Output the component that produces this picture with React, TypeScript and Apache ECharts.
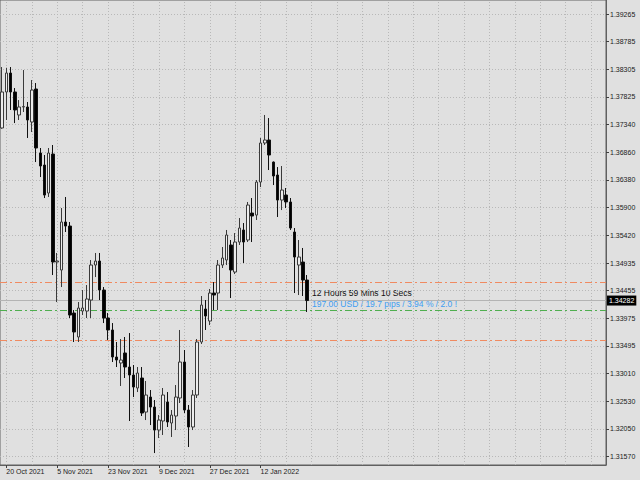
import React, { useEffect, useRef } from "react";
import * as echarts from "echarts";

// Trading days shown (daily candles)
const dates: string[] = [
  "19 Oct 2021", "20 Oct 2021", "21 Oct 2021", "22 Oct 2021", "25 Oct 2021", "26 Oct 2021", "27 Oct 2021", "28 Oct 2021", "29 Oct 2021",
  "1 Nov 2021", "2 Nov 2021", "3 Nov 2021", "4 Nov 2021", "5 Nov 2021", "8 Nov 2021", "9 Nov 2021", "10 Nov 2021", "11 Nov 2021", "12 Nov 2021",
  "15 Nov 2021", "16 Nov 2021", "17 Nov 2021", "18 Nov 2021", "19 Nov 2021", "22 Nov 2021", "23 Nov 2021", "24 Nov 2021", "25 Nov 2021",
  "26 Nov 2021", "29 Nov 2021", "30 Nov 2021",
  "1 Dec 2021", "2 Dec 2021", "3 Dec 2021", "6 Dec 2021", "7 Dec 2021", "8 Dec 2021", "9 Dec 2021", "10 Dec 2021", "13 Dec 2021",
  "14 Dec 2021", "15 Dec 2021", "16 Dec 2021", "17 Dec 2021", "20 Dec 2021", "21 Dec 2021", "22 Dec 2021", "23 Dec 2021", "24 Dec 2021",
  "27 Dec 2021", "28 Dec 2021", "29 Dec 2021", "30 Dec 2021", "31 Dec 2021",
  "3 Jan 2022", "4 Jan 2022", "5 Jan 2022", "6 Jan 2022", "7 Jan 2022", "10 Jan 2022", "11 Jan 2022", "12 Jan 2022", "13 Jan 2022",
  "14 Jan 2022", "17 Jan 2022", "18 Jan 2022", "19 Jan 2022", "20 Jan 2022", "21 Jan 2022", "24 Jan 2022", "25 Jan 2022", "26 Jan 2022",
  "27 Jan 2022",
];

const opens: number[] = [
  1.37283, 1.37909, 1.38239, 1.37909, 1.37509, 1.37648, 1.37648, 1.37387, 1.37961, 1.36848,
  1.36639, 1.36152, 1.36830, 1.34952, 1.34813, 1.35648, 1.35578, 1.34065, 1.33648, 1.34100,
  1.34100, 1.34291, 1.34900, 1.34969, 1.34465, 1.33978, 1.33770, 1.33300, 1.33196, 1.33370,
  1.33126, 1.32987, 1.32761, 1.32935, 1.32343, 1.32604, 1.32430, 1.32030, 1.32187, 1.32517,
  1.32152, 1.32274, 1.32587, 1.33213, 1.32378, 1.32083, 1.32639, 1.33561, 1.34135, 1.33926,
  1.34413, 1.34413, 1.34900, 1.34987, 1.35248, 1.34778, 1.35300, 1.35509, 1.35335, 1.35804,
  1.35769, 1.36343, 1.37022, 1.37074, 1.36691, 1.36465, 1.36030, 1.36117, 1.35996, 1.35474,
  1.34900, 1.34952, 1.34639,
];
const closes: number[] = [
  1.37909, 1.38239, 1.37909, 1.37596, 1.37648, 1.37655, 1.37422, 1.37943, 1.36935, 1.36622,
  1.36117, 1.36848, 1.34952, 1.34969, 1.35648, 1.35578, 1.34030, 1.33735, 1.34152, 1.34152,
  1.34309, 1.34900, 1.34969, 1.34465, 1.33978, 1.33770, 1.33300, 1.33248, 1.33248, 1.33126,
  1.32987, 1.32778, 1.33022, 1.32326, 1.32639, 1.32430, 1.32030, 1.32204, 1.32639, 1.32170,
  1.32291, 1.32604, 1.33213, 1.32378, 1.32083, 1.32639, 1.33561, 1.34204, 1.34013, 1.34413,
  1.34378, 1.34900, 1.35022, 1.35422, 1.34813, 1.35300, 1.35543, 1.35300, 1.35943, 1.35752,
  1.36343, 1.37022, 1.37074, 1.36813, 1.36448, 1.36030, 1.36204, 1.35996, 1.35543, 1.35039,
  1.35039, 1.34639, 1.34282,
];
const lows: number[] = [
  1.37270, 1.37422, 1.37596, 1.37369, 1.37422, 1.37561, 1.37109, 1.37213, 1.36691, 1.36430,
  1.36065, 1.36083, 1.34726, 1.34256, 1.34517, 1.35474, 1.33978, 1.33561, 1.33561, 1.34030,
  1.33978, 1.33978, 1.34691, 1.34291, 1.33891, 1.33596, 1.33213, 1.33126, 1.32796, 1.32935,
  1.32187, 1.32604, 1.32691, 1.32274, 1.32204, 1.32117, 1.31630, 1.31891, 1.31944, 1.32083,
  1.31909, 1.32030, 1.32500, 1.32326, 1.31735, 1.32030, 1.32587, 1.33526, 1.33770, 1.33856,
  1.34117, 1.34117, 1.34848, 1.34900, 1.34326, 1.34743, 1.35248, 1.34935, 1.35300, 1.35300,
  1.35683, 1.36256, 1.36987, 1.36552, 1.36291, 1.35735, 1.35856, 1.35891, 1.35509, 1.34413,
  1.34378, 1.34361, 1.34083,
];
const highs: number[] = [
  1.38343, 1.38330, 1.38343, 1.37978, 1.37769, 1.38291, 1.37735, 1.38117, 1.38065, 1.36935,
  1.36813, 1.36935, 1.36987, 1.35109, 1.35891, 1.36083, 1.35648, 1.34117, 1.34256, 1.34465,
  1.34552, 1.34987, 1.35109, 1.35109, 1.34517, 1.34065, 1.33891, 1.33561, 1.33613, 1.33648,
  1.33717, 1.33161, 1.33126, 1.33126, 1.32883, 1.32726, 1.32552, 1.32291, 1.32761, 1.32691,
  1.32378, 1.32813, 1.33770, 1.33422, 1.32465, 1.32726, 1.33613, 1.34361, 1.34291, 1.34483,
  1.34604, 1.34987, 1.35213, 1.35509, 1.35335, 1.35456, 1.35717, 1.35630, 1.35996, 1.36065,
  1.36378, 1.37109, 1.37509, 1.37456, 1.36700, 1.36604, 1.36622, 1.36239, 1.36065, 1.35543,
  1.35335, 1.35196, 1.34726,
];

const yTicks: number[] = [
  1.39265, 1.38785, 1.38305, 1.37825, 1.3734, 1.3686, 1.3638, 1.359, 1.3542,
  1.34935, 1.34455, 1.33975, 1.33495, 1.3301, 1.3253, 1.3205, 1.3157,
];
const labeledDates: string[] = ["20 Oct 2021", "5 Nov 2021", "23 Nov 2021", "9 Dec 2021", "27 Dec 2021", "12 Jan 2022"];

const upperLevel = 1.34592;
const entryLevel = 1.34105;
const lowerLevel = 1.33596;
const bidPrice = 1.34282;

const timerText = "12 Hours 59 Mins 10 Secs";
const infoText = "197.00 USD / 19.7 pips / 3.94 % / 2.0 !";

const FUTURE_SLOTS = 70;

export default function App() {
  const ref = useRef<HTMLDivElement>(null);
  useEffect(() => {
    if (!ref.current) return;
    const chart = echarts.init(ref.current, null, { renderer: "svg" });
    const future = Array.from({ length: FUTURE_SLOTS }, (_, i) => `_f${i}`);
    const categories = [...dates, ...future];
    const candles = opens.map((o, i) => [o, closes[i], lows[i], highs[i]]);
    const vGrid: number[] = [];
    for (let i = 1; i < categories.length; i += 6) vGrid.push(i);
    const font = "Liberation Sans";
    const labelIdx = new Set(labeledDates.map((d) => dates.indexOf(d)));
    const showIdx = (idx: number) => labelIdx.has(idx);
    const dotted = { type: [1, 2] as any, color: "#b8b8b8", width: 1 };
    const dashDot = [7, 3, 2, 3] as any;

    chart.setOption({
      animation: false,
      backgroundColor: "#e0e0e0",
      grid: { left: 0, top: 0, right: 34, bottom: 15, show: true, borderColor: "#606060", borderWidth: 1, backgroundColor: "transparent" },
      xAxis: {
        type: "category",
        data: categories,
        boundaryGap: true,
        axisLine: { show: true, lineStyle: { color: "#606060", width: 1 } },
        axisTick: { show: true, alignWithLabel: true, interval: showIdx, length: 3, lineStyle: { color: "#404040" } },
        axisLabel: { interval: showIdx, align: "left", margin: 3, fontSize: 7, fontFamily: font, color: "#202020" },
        splitLine: { show: false },
      },
      yAxis: {
        type: "value",
        position: "right",
        min: 1.31422,
        max: 1.39509,
        axisLine: { show: true, lineStyle: { color: "#606060", width: 1 } },
        axisTick: { show: true, customValues: yTicks, length: 3, lineStyle: { color: "#404040" } },
        axisLabel: { customValues: yTicks, formatter: (v: number) => v.toFixed(5), margin: 4, fontSize: 7, fontFamily: font, color: "#202020" },
        splitLine: { show: false },
      },
      series: [
        {
          type: "line",
          data: [],
          z: 1,
          silent: true,
          markLine: {
            z: 1,
            silent: true,
            precision: 6,
            symbol: "none",
            label: { show: false },
            lineStyle: dotted,
            data: [
              ...yTicks.map((v) => ({ yAxis: v })),
              ...vGrid.map((i) => ({ xAxis: i })),
            ],
          },
        },
        {
          type: "candlestick",
          data: candles,
          z: 3,
          barWidth: 3,
          itemStyle: {
            color: "#ececec",
            color0: "#000000",
            borderColor: "#3a3a3a",
            borderColor0: "#111111",
            borderWidth: 1,
          },
        },
        {
          type: "line",
          data: [],
          z: 2,
          silent: true,
          markLine: {
            z: 2,
            silent: true,
            precision: 6,
            symbol: "none",
            data: [
              { yAxis: upperLevel, lineStyle: { type: dashDot, color: "#f08a60", width: 1 }, label: { show: false } },
              { yAxis: entryLevel, lineStyle: { type: dashDot, color: "#4fae4f", width: 1 }, label: { show: false } },
              { yAxis: lowerLevel, lineStyle: { type: dashDot, color: "#f08a60", width: 1 }, label: { show: false } },
              {
                yAxis: bidPrice,
                lineStyle: { type: "solid", color: "#b4b4b4", width: 1 },
                label: {
                  show: true,
                  position: "end",
                  distance: 1,
                  formatter: bidPrice.toFixed(5),
                  backgroundColor: "#000",
                  color: "#fff",
                  padding: [2, 2, 1, 2],
                  fontSize: 7,
                  fontFamily: font,
                },
              },
            ],
          },
        },
      ],
      graphic: [
        { type: "text", left: 312, top: 288, style: { text: timerText, fill: "#111", fontSize: 8.5, fontFamily: font } },
        { type: "text", left: 312, top: 299, style: { text: infoText, fill: "#3d9df2", fontSize: 8.5, fontFamily: font } },
      ],
    });
    return () => chart.dispose();
  }, []);
  return <div ref={ref} style={{ position: "fixed", left: 0, top: 0, width: 640, height: 480 }} />;
}
